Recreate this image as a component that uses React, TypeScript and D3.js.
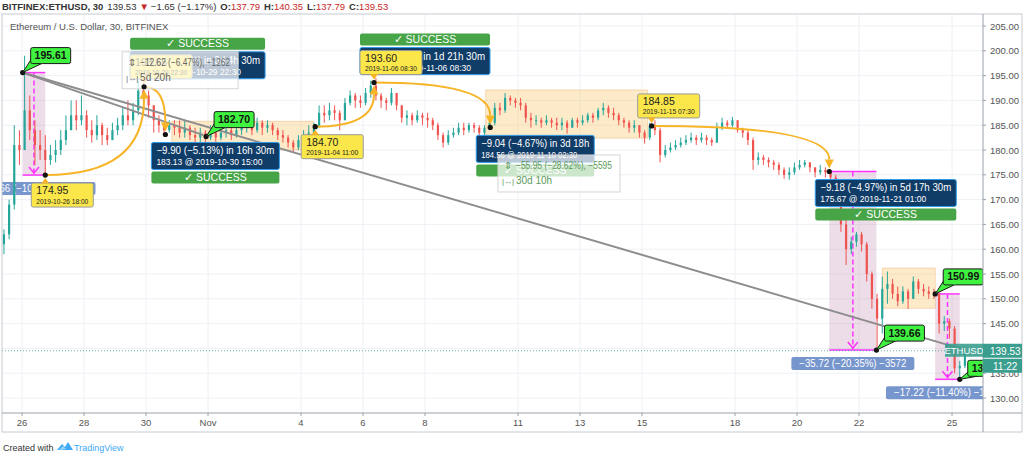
import React from "react";
import * as d3 from "d3";

// ---------- DATA ----------
// 4-hour candles starting 2019-10-25 08:00
const candleStart = "2019-10-25 08:00";
const firstOpen = 161;
const closes = [
  163, 169, 181, 180, 188, 184, 181, 180, 178, 179,
  180, 182, 184, 187, 186, 187, 184, 183, 185, 183,
  182, 184, 185, 187, 186, 188, 192, 191, 189, 186,
  185, 184, 185, 184.5, 183.5, 184.5, 183, 182.5, 183.5, 182.5,
  183.5, 182.5, 183.5, 184, 183, 184, 184.5, 185, 184, 185.5,
  184.5, 185, 184, 183, 182.5, 181.5, 180.5, 182, 183, 183.5,
  184.7, 187.5, 187, 188, 187.5, 186, 189.5, 191, 190, 189.5,
  191.5, 193, 191, 190, 189.5, 191.5, 189, 186.5, 187, 186,
  187, 186.5, 186, 185, 183, 181.5, 183, 183.5, 184.5, 184,
  185, 184.5, 183.5, 184.5, 185.5, 188.5, 188, 190.5, 190, 189.5,
  189, 186.5, 186, 186, 185.5, 186, 185.5, 185, 185.5, 184.5,
  186, 185.5, 186, 187, 186.5, 188, 188.5, 187.5, 187, 186,
  185.5, 184.5, 185, 183.5, 182.5, 184.85, 184, 179, 180, 180.5,
  181, 181.5, 182, 182.5, 182, 182.5, 182, 181.5, 184.5, 185.5,
  185, 186, 184, 183.5, 182, 178, 178.5, 178, 177.5, 177,
  176, 175, 175.5, 176.5, 177, 177.5, 176.5, 175.5, 176, 175.5,
  174.5, 171, 165, 160, 161.5, 163, 161, 155, 150, 146,
  152, 153, 151, 149.5, 151.5, 150, 153.5, 152, 151.5, 151,
  150.99, 145, 145.5, 144, 136, 136.5, 139.53,
];
const highs = [
  164, 170, 185, 184, 199, 191, 186, 184, 183, 181,
  182, 184, 187, 190, 190, 191, 188, 186, 187, 185.5,
  184.5, 185.5, 186.5, 188.5, 190, 189.5, 194, 194, 192, 189,
  187, 185.5, 186, 186, 186, 186, 185, 184.5, 184.5, 184,
  185, 184.5, 185, 185.5, 185, 185.5, 186, 186, 185.5, 186.5,
  186, 186, 185.5, 184.5, 184, 183, 182, 183, 184, 185,
  185.5, 189, 189, 189.5, 189, 188, 190.5, 192, 191.5, 191,
  192.5, 194, 194.5, 191.5, 190.5, 192.5, 191.5, 189, 188, 187.5,
  188, 187.5, 187.5, 186.5, 185.5, 183.5, 184, 184.5, 185.5, 185.5,
  185.5, 185.5, 185, 185, 186.5, 189.5, 189.5, 191.5, 191, 190.5,
  190.5, 189.5, 187.5, 187, 186.5, 187, 186.5, 186.5, 186.5, 186,
  186.5, 186.5, 187, 187.5, 187.5, 188.5, 189.5, 189, 188.5, 187.5,
  186.5, 186, 186, 185, 184, 185.5, 186, 184.5, 181, 181.5,
  182, 182.5, 183, 183.5, 183, 183.5, 183, 182.5, 185.5, 186.5,
  186, 186.7, 186, 184.5, 184, 182.5, 179.5, 179, 178.5, 178,
  177.5, 176.5, 176.5, 177.5, 178, 178, 177.5, 176.5, 177, 176.5,
  176, 175, 171.5, 166, 162.5, 163.5, 163.5, 161.5, 155.5, 151,
  154.5, 155.5, 154, 152.5, 152.5, 152, 154.5, 154, 153, 152.5,
  152, 151.5, 146.5, 146, 144.5, 137.5, 140.35,
];
const lows = [
  159, 162, 168, 177, 180, 182, 177, 178, 174.95, 177,
  177.5, 179, 181, 184, 184, 185, 182.5, 181.5, 182, 181,
  181, 182, 183, 184, 185, 185, 187, 189.5, 186.5, 183.5,
  183.5, 183.1, 183.5, 183, 182.5, 182.5, 182, 181, 181.5, 181,
  182, 181.5, 182, 182.5, 182, 182.5, 183, 183.5, 183, 183.5,
  183, 183.5, 183, 182, 181.5, 180.5, 179.6, 180, 181, 182.5,
  183, 184.5, 185.5, 186, 186, 184, 186, 189, 188.5, 188.5,
  189, 190.5, 190, 188.5, 188, 189, 188, 185.5, 185, 185,
  185.5, 185, 184.5, 184, 182, 180.5, 181, 182.5, 183, 183,
  183.5, 183.5, 182.5, 183, 184, 185, 187, 187.5, 189, 188.5,
  188, 185.5, 184.5, 185, 184.5, 185, 184.5, 184, 184, 183.3,
  184.5, 184.5, 185, 185.5, 185.5, 186, 187, 186.5, 186, 185,
  184.5, 183.5, 183.5, 182.5, 181.3, 182, 183, 177.5, 178.5, 179.5,
  180, 180.5, 181, 181.5, 181, 181.5, 181, 180.8, 181.5, 184,
  184.5, 184.5, 183.5, 182.5, 181, 176, 177, 177, 176.5, 176,
  175, 174.2, 174, 175, 176, 176.5, 175.5, 174.5, 175, 174.5,
  173.5, 170, 163.5, 156.8, 159, 160.5, 159.5, 153.5, 148, 139.66,
  143, 149, 150, 148.5, 149, 148, 150, 151, 150.5, 150,
  150, 143, 143.5, 142, 135, 133.6, 136,
];

const priceTicks = [130, 135, 140, 145, 150, 155, 160, 165, 170, 175, 180, 185, 190, 195, 200, 205];
const dateTicks = ["2019-10-26", "2019-10-28", "2019-10-30", "2019-11-01", "2019-11-04", "2019-11-06", "2019-11-08",
  "2019-11-11", "2019-11-13", "2019-11-15", "2019-11-18", "2019-11-20", "2019-11-22", "2019-11-25"];
const dateTickLabels = ["26", "28", "30", "Nov", "4", "6", "8", "11", "13", "15", "18", "20", "22", "25"];

// pivot points of the drawings
const pivotTimes = ["2019-10-26 00:30", "2019-10-26 18:00", "2019-10-29 22:30", "2019-10-30 15:00", "2019-10-31 22:30",
  "2019-11-04 11:00", "2019-11-06 08:30", "2019-11-10 02:30", "2019-11-15 07:30", "2019-11-21 01:00",
  "2019-11-22 13:30", "2019-11-24 11:00", "2019-11-25 06:00"];
const pivotPrices = [195.61, 174.95, 192.75, 183.13, 182.7, 184.7, 193.6, 184.56, 184.85, 175.67, 139.66, 150.99, 133.77];

// rectangles (time range, price range)
const bandTimes = [["2019-10-30 20:00", "2019-11-04 09:30"], ["2019-11-09 23:00", "2019-11-15 04:30"], ["2019-11-22 18:00", "2019-11-24 11:00"]];
const bandPrices = [[180, 185.8], [182.4, 192.1], [148.1, 156.2]];

const lastPrice = 139.53;

// ---------- LAYOUT ----------
const W = 1024, H = 459;
const PL = 2, PR = 983, PT = 14, PB = 413;
const parse = d3.timeParse("%Y-%m-%d %H:%M");
const T = (s: string) => parse(s.length === 10 ? s + " 00:00" : s) as Date;

const x = d3.scaleTime().domain([T("2019-10-25 08:30"), T("2019-11-26 00:00")]).range([PL, PR]);
const y = d3.scaleLinear().domain([126.98, 207.42]).range([PB, PT]);

const FONT = '"Liberation Sans", Arial, sans-serif';
const UP = "#26a69a", DOWN = "#ef5350";
const TEAL = "#3a9e8f";

const P = pivotTimes.map((t, i) => ({ x: x(T(t)), y: y(pivotPrices[i]) }));

function candles() {
  const t0 = T(candleStart);
  return closes.map((c, i) => {
    const o = i === 0 ? firstOpen : closes[i - 1];
    const tc = d3.timeHour.offset(t0, i * 4 + 2);
    return { cx: x(tc), o, c, h: highs[i], l: lows[i] };
  });
}

function Arrow({ a, b }: { a: { x: number; y: number }; b: { x: number; y: number } }) {
  const cx = b.x, cy = a.y;
  let dx = b.x - cx, dy = b.y - cy;
  const len = Math.hypot(dx, dy) || 1;
  dx /= len; dy /= len;
  const tip = { x: b.x - dx * 3, y: b.y - dy * 3 };
  const base = { x: tip.x - dx * 9, y: tip.y - dy * 9 };
  const nx = -dy, ny = dx;
  return (
    <g>
      <path d={`M${a.x},${a.y} Q${cx},${cy} ${base.x},${base.y}`} fill="none" stroke="#f6b426" strokeWidth={2} />
      <path d={`M${tip.x},${tip.y} L${base.x + nx * 4.5},${base.y + ny * 4.5} L${base.x - nx * 4.5},${base.y - ny * 4.5} Z`} fill="#f6b426" />
    </g>
  );
}

function Callout({ p, text, dx = 8, dy = -9 }: any) {
  const w = 40, h = 16;
  const left = p.x + dx, bottom = p.y + dy, top = bottom - h;
  return (
    <g>
      <path d={`M${left + 1},${bottom - 5} L${left + 12},${bottom - 0.5} L${p.x},${p.y} Z`} fill="#3ff23f" stroke="#1a1a1a" strokeWidth={1} />
      <rect x={left} y={top} width={w} height={h} rx={2} fill="#3ff23f" stroke="#1a1a1a" strokeWidth={1} />
      <path d={`M${left + 1.5},${bottom - 5} L${left + 12},${bottom - 1}`} stroke="#3ff23f" strokeWidth={2} />
      <text x={left + w / 2} y={top + 11.5} textAnchor="middle" fontSize={10.5} fontWeight="bold" fill="#111">{text}</text>
    </g>
  );
}

function YLabel({ p, price, date, below }: any) {
  const w = 62, h = 24;
  const left = p.x - 14;
  const top = below ? p.y + 8 : p.y - 8 - h;
  const tri = below
    ? `M${p.x - 4},${top + 0.5} L${p.x + 4},${top + 0.5} L${p.x},${top - 5} Z`
    : `M${p.x - 4},${top + h - 0.5} L${p.x + 4},${top + h - 0.5} L${p.x},${top + h + 5} Z`;
  return (
    <g>
      <rect x={left} y={top} width={w} height={h} rx={2} fill="#fbe74a" stroke="#9a9a9a" strokeWidth={1} />
      <path d={tri} fill="#f6b426" />
      <text x={left + 5} y={top + 11} fontSize={10.5} fill="#222">{price}</text>
      <text x={left + 5} y={top + 20.5} fontSize={8} fill="#222" textLength={w - 10} lengthAdjust="spacingAndGlyphs">{date}</text>
    </g>
  );
}

function Forecast({ p, up, w, line1, line2 }: any) {
  const h = 27;
  const left = p.x - 14;
  const top = up ? p.y - 8 - h : p.y + 8;
  const sTop = up ? top - 14 : top + h + 2;
  return (
    <g>
      <rect x={left} y={sTop} width={w} height={12} rx={2} fill="#47a447" />
      <text x={left + w / 2} y={sTop + 9.5} textAnchor="middle" fontSize={10.5} fill="#fff">✓ SUCCESS</text>
      <rect x={left} y={top} width={w} height={h} rx={2} fill="#103c68" stroke="#2d9be8" strokeWidth={1} />
      <text x={left + 5} y={top + 12} fontSize={10.5} fill="#fff" textLength={w - 10} lengthAdjust="spacingAndGlyphs">{line1}</text>
      <text x={left + 5} y={top + 23} fontSize={8.5} fill="#fff" textLength={Math.min(w - 22, 106)} lengthAdjust="spacingAndGlyphs">{line2}</text>
    </g>
  );
}

function RangeBox({ a, b, label }: any) {
  const x0 = a.x, x1 = b.x, yt = a.y, yb = b.y;
  const xm = (x0 + x1) / 2;
  const lw = 123;
  return (
    <g>
      <rect x={x0} y={yt} width={x1 - x0} height={yb - yt} fill="rgba(200,150,185,0.32)" />
      <line x1={x0} x2={x1} y1={yt} y2={yt} stroke="#ff33ff" strokeWidth={1.5} />
      <line x1={x0} x2={x1} y1={yb} y2={yb} stroke="#ff33ff" strokeWidth={1.5} />
      <line x1={xm} x2={xm} y1={yt} y2={yb - 1} stroke="#ff33ff" strokeWidth={1.5} strokeDasharray="5,3" />
      <path d={`M${xm - 5},${yb - 8} L${xm},${yb - 2} L${xm + 5},${yb - 8}`} fill="none" stroke="#ff33ff" strokeWidth={1.5} />
      <rect x={xm - lw / 2} y={yb + 7} width={lw} height={13} rx={2} fill="rgba(95,132,196,0.85)" />
      <text x={xm} y={yb + 17} textAnchor="middle" fontSize={10} fill="#fff" textLength={lw - 16} lengthAdjust="spacingAndGlyphs">{label}</text>
    </g>
  );
}

function Measure({ left, top, w, line1, line2, color }: any) {
  return (
    <g>
      <rect x={left} y={top} width={w} height={37} fill="rgba(255,255,255,0.72)" stroke="#d5d5d5" strokeWidth={1} />
      <text x={left + 6} y={top + 14} fontSize={10} fill={color}>⇕</text>
      <text x={left + 18} y={top + 14} fontSize={10} fill={color} textLength={w - 26} lengthAdjust="spacingAndGlyphs">{line1}</text>
      <text x={left + 4} y={top + 29} fontSize={8} fill={color}>|↔|</text>
      <text x={left + 18} y={top + 29} fontSize={10} fill={color}>{line2}</text>
    </g>
  );
}

export default function App() {
  const cs = candles();
  const bw = 2.2;
  const lineAEnd = { x: x(T("2019-11-25 10:30")), y: y(139.66) };
  const lineBEnd = { x: x(T("2019-10-31 20:30")), y: y(182.99) };
  const yLast = y(lastPrice);
  return (
    <div style={{ position: "absolute", left: 0, top: 0, width: W, height: H }}>
      <svg width={W} height={H} style={{ display: "block", fontFamily: FONT }}>
        <defs>
          <clipPath id="plot"><rect x={PL} y={PT} width={PR - PL} height={PB - PT} /></clipPath>
        </defs>
        <rect width={W} height={H} fill="#fff" />
        {/* header */}
        <text x={2} y={9.5} fontSize={9.5} fill="#333">
          <tspan fontWeight="bold">BITFINEX:ETHUSD, 30</tspan>
          <tspan dx={4}>139.53</tspan>
          <tspan dx={3} fill="#c62828">▼</tspan>
          <tspan dx={2}>−1.65 (−1.17%)</tspan>
          <tspan dx={4} fontWeight="bold">O:</tspan><tspan fill="#c62828">137.79</tspan>
          <tspan dx={4} fontWeight="bold">H:</tspan><tspan fill="#c62828">140.35</tspan>
          <tspan dx={4} fontWeight="bold">L:</tspan><tspan fill="#c62828">137.79</tspan>
          <tspan dx={4} fontWeight="bold">C:</tspan><tspan fill="#c62828">139.53</tspan>
        </text>
        {/* grid */}
        {priceTicks.map((v) => (
          <line key={"h" + v} x1={PL} x2={PR} y1={y(v)} y2={y(v)} stroke="#edf0f4" />
        ))}
        {dateTicks.map((d) => (
          <line key={"v" + d} x1={x(T(d))} x2={x(T(d))} y1={PT} y2={PB} stroke="#edf0f4" />
        ))}
        <text x={10} y={30} fontSize={9.5} fill="#555">Ethereum / U.S. Dollar, 30, BITFINEX</text>

        <g clipPath="url(#plot)">
          {bandTimes.map((bt, i) => (
            <rect key={"b" + i} x={x(T(bt[0]))} y={y(bandPrices[i][1])} width={x(T(bt[1])) - x(T(bt[0]))}
              height={y(bandPrices[i][0]) - y(bandPrices[i][1])} fill="rgba(250,200,110,0.38)" stroke="rgba(240,170,100,0.5)" strokeWidth={0.8} />
          ))}
          <RangeBox a={P[0]} b={P[1]} label="−20.66 (−10.56%) −2066" />
          <RangeBox a={P[9]} b={P[10]} label="−35.72 (−20.35%) −3572" />
          <RangeBox a={P[11]} b={P[12]} label="−17.22 (−11.40%) −1722" />
          <line x1={PL} x2={PR} y1={yLast} y2={yLast} stroke={TEAL} strokeWidth={1} strokeDasharray="1,2" opacity={0.8} />
          {/* candles */}
          {cs.map((k, i) => {
            const col = k.c >= k.o ? UP : DOWN;
            const yt = y(Math.max(k.o, k.c)), yb = y(Math.min(k.o, k.c));
            return (
              <g key={i}>
                <line x1={k.cx} x2={k.cx} y1={y(k.h)} y2={y(k.l)} stroke={col} strokeWidth={1} />
                <rect x={k.cx - bw / 2} y={yt} width={bw} height={Math.max(1, yb - yt)} fill={col} />
              </g>
            );
          })}
          {/* trend lines */}
          <line x1={P[0].x} y1={P[0].y} x2={lineAEnd.x} y2={lineAEnd.y} stroke="#8d8d8d" strokeWidth={2} />
          <line x1={P[0].x} y1={P[0].y} x2={lineBEnd.x} y2={lineBEnd.y} stroke="#8d8d8d" strokeWidth={2} />
          {/* curved arrows */}
          <Arrow a={P[1]} b={P[2]} />
          <Arrow a={P[2]} b={P[3]} />
          <Arrow a={P[5]} b={P[6]} />
          <Arrow a={P[6]} b={P[7]} />
          <Arrow a={P[8]} b={P[9]} />
          {/* forecasts */}
          <Forecast p={P[2]} up w={135} line1="18.70 (10.69%) in 3d 4h 30m" line2="193.65 @ 2019-10-29  22:30" />
          <Forecast p={P[3]} up={false} w={128} line1="−9.90 (−5.13%) in 16h 30m" line2="183.13 @ 2019-10-30  15:00" />
          <Forecast p={P[6]} up w={130} line1="8.90 (4.82%) in 1d 21h 30m" line2="193.60 @ 2019-11-06  08:30" />
          <Forecast p={P[7]} up={false} w={118} line1="−9.04 (−4.67%) in 3d 18h" line2="184.56 @ 2019-11-10  02:30" />
          <Forecast p={P[9]} up={false} w={141} line1="−9.18 (−4.97%) in 5d 17h 30m" line2="175.67 @ 2019-11-21  01:00" />
          {/* yellow labels */}
          <YLabel p={P[1]} price="174.95" date="2019-10-26 18:00" below />
          <YLabel p={P[2]} price="193.65" date="2019-10-29 22:30" below={false} />
          <YLabel p={P[5]} price="184.70" date="2019-11-04 11:00" below />
          <YLabel p={P[6]} price="193.60" date="2019-11-06 08:30" below={false} />
          <YLabel p={P[8]} price="184.85" date="2019-11-15 07:30" below={false} />
          {/* measure labels */}
          <Measure left={x(T("2019-10-29 05:30"))} top={y(199.8)} w={116} line1="−12.62 (−6.47%), −1262" line2="5d 20h" color="#666" />
          <Measure left={x(T("2019-11-10 08:30"))} top={y(179.0)} w={122} line1="−55.95 (−28.62%), −5595" line2="30d 10h" color="#5c9a5c" />
          {/* dots */}
          {P.map((p, i) => (
            <circle key={"d" + i} cx={p.x} cy={p.y} r={2.6} fill="#111" />
          ))}
          {/* callouts */}
          <Callout p={P[0]} text="195.61" />
          <Callout p={P[4]} text="182.70" />
          <Callout p={P[10]} text="139.66" />
          <Callout p={P[11]} text="150.99" />
          <Callout p={P[12]} text="133.77" dy={-3} />
        </g>

        {/* frame */}
        <rect x={PL} y={PT} width={1022 - PL} height={432 - PT} fill="none" stroke="#c5cad2" />
        <line x1={PR} x2={PR} y1={PT} y2={432} stroke="#9aa0a8" />
        <line x1={PL} x2={1022} y1={PB} y2={PB} stroke="#9aa0a8" />

        {/* price axis */}
        {priceTicks.map((v) => (
          <g key={"pt" + v}>
            <line x1={PR} x2={PR + 3} y1={y(v)} y2={y(v)} stroke="#9aa0a8" />
            <text x={990} y={y(v) + 3.5} fontSize={9.5} fill="#555">{v.toFixed(2)}</text>
          </g>
        ))}
        {/* time axis */}
        {dateTicks.map((d, i) => (
          <g key={"dt" + d}>
            <line x1={x(T(d))} x2={x(T(d))} y1={PB} y2={PB + 3} stroke="#9aa0a8" />
            <text x={x(T(d))} y={426} textAnchor="middle" fontSize={9.5} fill="#555">{dateTickLabels[i]}</text>
          </g>
        ))}

        {/* last price labels */}
        <rect x={945} y={yLast - 7} width={PR - 945} height={13} fill={TEAL} opacity={0.9} />
        <text x={964} y={yLast + 3.5} textAnchor="middle" fontSize={9.5} fill="#fff">ETHUSD</text>
        <rect x={PR} y={yLast - 7} width={39} height={14} fill={TEAL} />
        <text x={PR + 7} y={yLast + 4} fontSize={10} fill="#fff">{lastPrice.toFixed(2)}</text>
        <rect x={PR} y={yLast + 8} width={39} height={14} fill={TEAL} />
        <text x={PR + 10} y={yLast + 19} fontSize={10} fill="#fff">11:22</text>

        {/* watermark */}
        <text x={3} y={451} fontSize={9} fill="#333">Created with</text>
        <g transform="translate(57,441)">
          <path d="M0,9 L5,3 L8,6 L11,1 L16,9 Z" fill="#3fa9f5" />
          <path d="M2,9 L6,5 L9,8 Z" fill="#9fd4fb" />
        </g>
        <text x={74} y={451} fontSize={9} fill="#3fa9f5">TradingView</text>
      </svg>
    </div>
  );
}
